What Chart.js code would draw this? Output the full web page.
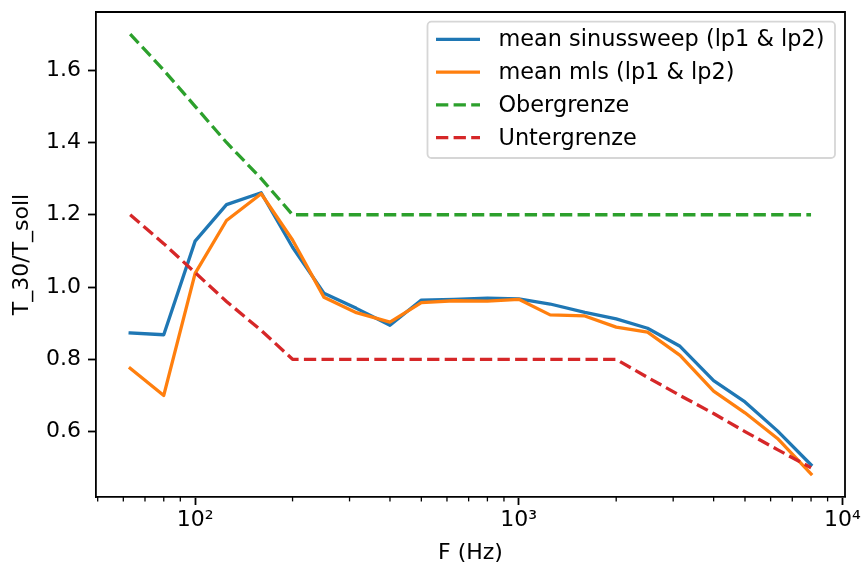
<!DOCTYPE html>
<html>
<head>
<meta charset="utf-8">
<script src="https://cdn.jsdelivr.net/npm/chart.js@4.4.1/dist/chart.umd.min.js"></script>
<style>
  html, body { margin: 0; padding: 0; background: #fff; }
  canvas { display: block; }
</style>
</head>
<body>
<canvas id="t30Chart" width="864" height="569"></canvas>
<script>
// third-octave band centre frequencies (Hz)
const freqs = [63, 80, 100, 125, 160, 200, 250, 315, 400, 500, 630, 800, 1000, 1250, 1600, 2000, 2500, 3150, 4000, 5000, 6300, 8000];

// T_30 / T_soll per band
const sweepMean = [0.873, 0.868, 1.127, 1.228, 1.261, 1.11, 0.983, 0.941, 0.894, 0.964, 0.966, 0.969, 0.967, 0.953, 0.930, 0.912, 0.886, 0.836, 0.741, 0.682, 0.602, 0.508];
const mlsMean = [0.775, 0.700, 1.038, 1.184, 1.258, 1.13, 0.972, 0.929, 0.903, 0.957, 0.962, 0.961, 0.966, 0.923, 0.920, 0.889, 0.875, 0.811, 0.712, 0.652, 0.581, 0.483];

// tolerance band
const upperLimit = [1.7, 1.6, 1.5, 1.4, 1.3, 1.2, 1.2, 1.2, 1.2, 1.2, 1.2, 1.2, 1.2, 1.2, 1.2, 1.2, 1.2, 1.2, 1.2, 1.2, 1.2, 1.2];
const lowerLimit = [1.2, 1.12, 1.04, 0.96, 0.88, 0.8, 0.8, 0.8, 0.8, 0.8, 0.8, 0.8, 0.8, 0.8, 0.8, 0.8, 0.75, 0.7, 0.65, 0.6, 0.55, 0.5];

const seriesLabels = ['mean sinussweep (lp1 & lp2)', 'mean mls (lp1 & lp2)', 'Obergrenze', 'Untergrenze'];
const yTicks = [0.6, 0.8, 1.0, 1.2, 1.4, 1.6];

const FONT = 'DejaVu Sans';
const LW = 3.3;
const DASH = [12.3, 5.3];

Chart.defaults.font.family = FONT;
Chart.defaults.font.size = 22;
Chart.defaults.color = '#000';

const toPoints = (vals) => freqs.map((f, i) => ({ x: f, y: vals[i] }));
const isDecade = (v) => Math.abs(Math.log10(v) - Math.round(Math.log10(v))) < 1e-9;
const sup = { '1': '\u00b9', '2': '\u00b2', '3': '\u00b3', '4': '\u2074' };

function lineSet(label, vals, color, dashed, order) {
  return {
    label: label,
    data: toPoints(vals),
    borderColor: color,
    backgroundColor: color,
    borderWidth: LW,
    borderDash: dashed ? DASH : [],
    borderCapStyle: dashed ? 'butt' : 'square',
    borderJoinStyle: 'round',
    pointRadius: 0,
    tension: 0,
    fill: false,
    order: order
  };
}

// frame, minor ticks and the legend box
const decorations = {
  id: 'decorations',
  afterDatasetsDraw(chart) {
    const { ctx, chartArea: a, scales } = chart;
    ctx.save();

    // minor x ticks
    ctx.strokeStyle = '#000';
    ctx.lineWidth = 1.3;
    scales.x.ticks.forEach(t => {
      if (isDecade(t.value)) return;
      const px = scales.x.getPixelForValue(t.value);
      ctx.beginPath();
      ctx.moveTo(px, a.bottom);
      ctx.lineTo(px, a.bottom + 4.4);
      ctx.stroke();
    });

    // top and right spines
    ctx.lineWidth = 1.8;
    ctx.beginPath();
    ctx.moveTo(a.left, a.top);
    ctx.lineTo(a.right, a.top);
    ctx.lineTo(a.right, a.bottom);
    ctx.stroke();

    // legend
    const bx = a.right - 417.5, by = a.top + 9.7, bw = 407.5, bh = 136.3, r = 4;
    ctx.beginPath();
    ctx.moveTo(bx + r, by);
    ctx.arcTo(bx + bw, by, bx + bw, by + bh, r);
    ctx.arcTo(bx + bw, by + bh, bx, by + bh, r);
    ctx.arcTo(bx, by + bh, bx, by, r);
    ctx.arcTo(bx, by, bx + bw, by, r);
    ctx.closePath();
    ctx.fillStyle = 'rgba(255,255,255,0.8)';
    ctx.fill();
    ctx.strokeStyle = '#d6d6d6';
    ctx.lineWidth = 1.8;
    ctx.stroke();

    ctx.font = '22.4px "' + FONT + '"';
    ctx.textBaseline = 'middle';
    ctx.textAlign = 'left';
    chart.data.datasets.forEach((ds, i) => {
      const ry = by + 17.6 + i * 32.8;
      ctx.strokeStyle = ds.borderColor;
      ctx.lineWidth = LW;
      ctx.lineCap = 'butt';
      ctx.setLineDash(ds.borderDash);
      ctx.beginPath();
      ctx.moveTo(bx + 8.5, ry);
      ctx.lineTo(bx + 52.5, ry);
      ctx.stroke();
      ctx.setLineDash([]);
      ctx.fillStyle = '#000';
      ctx.fillText(ds.label, bx + 71, ry + 1);
    });
    ctx.restore();
  }
};

new Chart(document.getElementById('t30Chart'), {
  type: 'line',
  data: {
    datasets: [
      lineSet(seriesLabels[0], sweepMean, '#1f77b4', false, 4),
      lineSet(seriesLabels[1], mlsMean, '#ff7f0e', false, 3),
      lineSet(seriesLabels[2], upperLimit, '#2ca02c', true, 2),
      lineSet(seriesLabels[3], lowerLimit, '#d62728', true, 1)
    ]
  },
  options: {
    responsive: false,
    animation: false,
    devicePixelRatio: 1,
    layout: { padding: { top: 12, right: 19, left: 0, bottom: 0 } },
    plugins: {
      legend: { display: false },
      tooltip: { enabled: false }
    },
    scales: {
      x: {
        type: 'logarithmic',
        position: 'bottom',
        min: 49.4,
        max: 10186,
        afterBuildTicks(scale) {
          const list = [];
          [10, 100, 1000].forEach(d => {
            for (let k = 1; k <= 9; k++) {
              const v = d * k;
              if (v >= scale.min && v <= scale.max) list.push({ value: v, major: k === 1 });
            }
          });
          list.push({ value: 10000, major: true });
          scale.ticks = list;
        },
        afterFit(scale) {
          scale.height = 72;
          scale.paddingLeft = 0;
          scale.paddingRight = 0;
        },
        ticks: {
          autoSkip: false,
          maxRotation: 0,
          padding: 2,
          color: '#000',
          font: { size: 22 },
          callback(v) {
            if (!isDecade(v)) return '';
            return '10' + sup[String(Math.round(Math.log10(v)))];
          }
        },
        grid: {
          drawOnChartArea: false,
          drawTicks: true,
          tickLength: 8,
          tickWidth: 1.8,
          tickColor: (c) => (c.tick && isDecade(c.tick.value)) ? '#000' : 'rgba(0,0,0,0)'
        },
        border: { display: true, color: '#000', width: 1.8 },
        title: { display: true, text: 'F (Hz)', color: '#000', font: { size: 22 }, padding: { top: 0, bottom: 3 } }
      },
      y: {
        type: 'linear',
        min: 0.419,
        max: 1.761,
        afterBuildTicks(scale) { scale.ticks = yTicks.map(v => ({ value: v })); },
        afterFit(scale) {
          scale.width = 96;
          scale.paddingTop = 0;
          scale.paddingBottom = 0;
        },
        ticks: {
          padding: 7,
          color: '#000',
          font: { size: 22 },
          callback: (v) => Number(v).toFixed(1)
        },
        grid: {
          drawOnChartArea: false,
          drawTicks: true,
          tickLength: 8,
          tickWidth: 1.8,
          tickColor: '#000'
        },
        border: { display: true, color: '#000', width: 1.8 },
        title: { display: true, text: 'T_30/T_soll', color: '#000', font: { size: 22 }, padding: { top: 9, bottom: 0 } }
      }
    }
  },
  plugins: [decorations]
});
</script>
</body>
</html>
